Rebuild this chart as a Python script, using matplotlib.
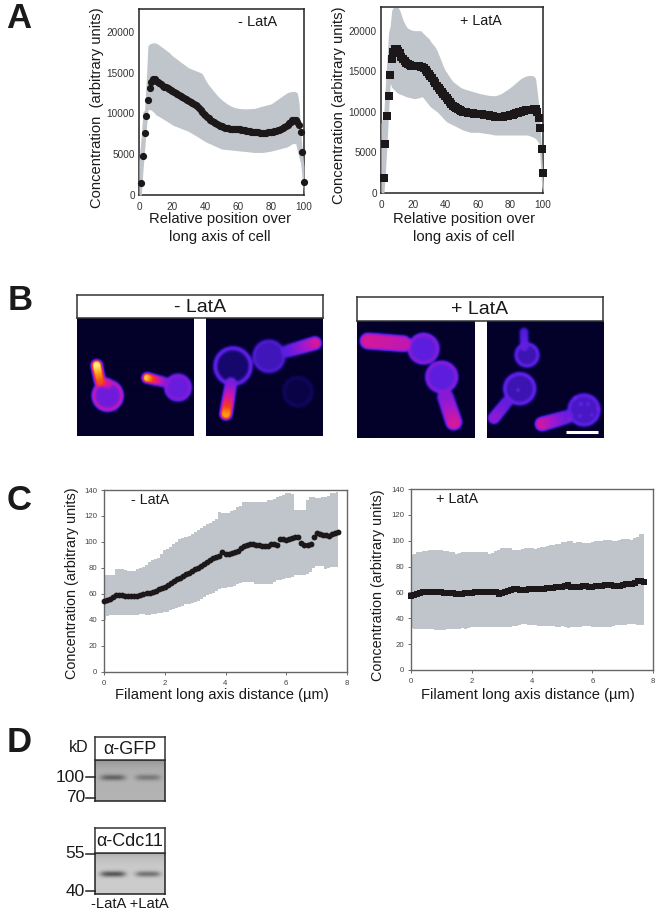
import numpy as np
import matplotlib
matplotlib.use("Agg")
import matplotlib.pyplot as plt
from matplotlib.colors import LinearSegmentedColormap

plt.rcParams['font.family'] = ['Liberation Sans', 'DejaVu Sans']

W, H = 660, 916

# panel A, - LatA
a1_x = [1.4,2.4,3.4,4.4,5.4,6.4,7.4,8.4,9.4,10.4,
        11.4,12.4,13.4,14.4,15.4,16.4,17.4,18.4,19.3,20.3,
        21.3,22.3,23.3,24.3,25.3,26.3,27.3,28.3,29.3,30.3,
        31.3,32.3,33.3,34.3,35.3,36.3,37.3,38.3,39.3,40.3,
        41.2,42.2,43.2,44.2,45.2,46.2,47.2,48.2,49.2,50.2,
        51.2,52.2,53.2,54.2,55.2,56.2,57.2,58.2,59.2,60.2,
        61.1,62.1,63.1,64.1,65.1,66.1,67.1,68.1,69.1,70.1,
        71.1,72.1,73.1,74.1,75.1,76.1,77.1,78.1,79.1,80.1,
        81,82,83,84,85,86,87,88,89,90,
        91,92,93,94,95,96,97,98,99,100]
a1_mean = [1500,4800,7600,9700,11700,13100,13900,14200,14200,14000,
           13850,13700,13550,13400,13300,13200,13100,13000,12900,12800,
           12680,12550,12420,12300,12170,12050,11900,11770,11620,11480,
           11350,11220,11100,10980,10850,10680,10450,10200,9980,9780,
           9580,9400,9230,9070,8940,8800,8680,8570,8470,8400,
           8320,8260,8210,8170,8140,8120,8110,8100,8100,8090,
           8060,8020,7980,7930,7890,7850,7810,7770,7740,7710,
           7690,7670,7660,7650,7650,7650,7660,7670,7680,7700,
           7740,7790,7850,7920,8000,8100,8200,8330,8480,8640,
           8820,9000,9150,9230,9200,8950,8600,7700,5300,1600]
a1_upper = [7300,10200,10400,14000,18300,18500,18600,18650,18650,18600,
            18500,18350,18200,18050,17900,17750,17600,17450,17250,17050,
            16900,16750,16600,16450,16300,16150,16000,15850,15700,15560,
            15480,15400,15320,15240,15160,15080,15000,14860,14500,14100,
            13800,13500,13250,13000,12750,12500,12250,12050,11850,11660,
            11500,11350,11200,11080,10960,10860,10780,10710,10660,10630,
            10600,10580,10570,10560,10560,10570,10580,10590,10600,10620,
            10680,10740,10800,10860,10900,10960,11020,11080,11120,11170,
            11300,11440,11580,11720,11870,12000,12150,12280,12420,12560,
            12620,12660,12690,12690,12650,12480,11250,7500,5500,3400]
a1_lower = [0,3000,5500,8000,10400,10500,10400,10250,10050,9800,
            9700,9600,9450,9350,9200,9100,8950,8850,8720,8580,
            8500,8420,8340,8260,8180,8100,8020,7940,7850,7760,
            7640,7520,7400,7280,7160,7040,6900,6780,6650,6530,
            6440,6350,6260,6170,6080,5990,5900,5810,5720,5630,
            5610,5590,5570,5550,5530,5510,5490,5470,5440,5420,
            5400,5380,5360,5340,5320,5300,5270,5250,5230,5215,
            5215,5215,5215,5215,5215,5250,5280,5310,5350,5380,
            5430,5480,5530,5590,5640,5690,5750,5800,5850,5910,
            6040,6170,6300,6300,6300,5400,4600,3860,1800,0]

# panel A, + LatA
a2_x = [1.8,2.6,3.7,4.7,5.7,6.6,7.6,8.6,9.6,10.6,
        11.6,12.6,13.6,14.6,15.6,16.6,17.6,18.6,19.6,20.6,
        21.6,22.6,23.6,24.6,25.5,26.5,27.5,28.5,29.5,30.5,
        31.5,32.5,33.5,34.5,35.5,36.5,37.5,38.5,39.5,40.5,
        41.5,42.5,43.5,44.5,45.5,46.5,47.5,48.5,49.5,50.5,
        51.5,52.5,53.5,54.5,55.5,56.5,57.5,58.5,59.5,60.5,
        61.5,62.4,63.4,64.4,65.4,66.4,67.4,68.4,69.4,70.4,
        71.4,72.4,73.4,74.4,75.4,76.4,77.4,78.4,79.4,80.4,
        81.4,82.4,83.4,84.4,85.4,86.4,87.4,88.4,89.4,90.4,
        91.4,92.4,93.4,94.4,95.4,96.4,97.5,98.4,99.2,100.2]
a2_mean = [1800,5970,9460,11970,14480,16460,17400,17700,17700,17530,
           17200,16800,16500,16250,16050,15840,15740,15640,15640,15640,
           15620,15600,15590,15570,15550,15350,15140,14900,14650,14400,
           14100,13800,13500,13200,12880,12640,12400,12150,11900,11650,
           11420,11200,10980,10750,10530,10400,10300,10200,10100,10000,
           9960,9920,9880,9840,9800,9780,9760,9740,9720,9700,
           9680,9660,9640,9610,9590,9550,9510,9470,9430,9380,
           9380,9380,9380,9380,9380,9420,9460,9500,9550,9590,
           9650,9720,9790,9860,9920,9980,10040,10100,10150,10200,
           10220,10240,10260,10280,10290,10000,9200,7940,5430,2470]
a2_upper = [10000,13000,16500,19800,20600,22500,22860,22860,22860,22860,
            22500,21900,21300,20900,20500,20300,20200,20100,20050,20000,
            20000,20000,20000,20000,19800,19600,19400,19200,19050,18700,
            18450,18200,17950,17600,17100,16600,16100,15600,15150,14850,
            14550,14250,13950,13700,13550,13400,13250,13100,12950,12880,
            12800,12740,12680,12620,12560,12500,12440,12380,12320,12260,
            12220,12180,12140,12100,12060,12020,12000,11980,11970,11990,
            12030,12090,12170,12260,12390,12520,12650,12790,12930,13090,
            13250,13420,13590,13760,13930,14100,14210,14300,14380,14440,
            14480,14480,14450,14400,14100,12500,10600,7800,4850,900]
a2_lower = [0,2000,6000,10000,13500,13000,12800,12600,12400,12260,
            12180,12100,12020,11940,11850,11800,11750,11700,11650,11600,
            11640,11680,11740,11800,11850,11600,11350,11100,10850,10600,
            10450,10300,10150,10000,9800,9600,9400,9150,8950,8760,
            8650,8550,8450,8350,8250,8150,8050,7950,7850,7740,
            7680,7620,7560,7500,7450,7450,7450,7450,7450,7450,
            7420,7390,7360,7330,7300,7270,7240,7200,7160,7120,
            7120,7120,7120,7120,7120,7120,7120,7120,7120,7120,
            7120,7120,7120,7120,7120,7120,7120,7120,7120,7120,
            7050,6980,6900,6800,6700,6400,6090,3620,740,0]

# panel C, - LatA
c1_x = [i / 10 for i in range(78)]
c1_mean = [55,55.5,56.5,57.5,59,59.5,59,58.8,58.5,58.3,
           58.3,58.8,59.5,60,60.5,60.8,61.3,62.3,63.5,64.5,
           65.5,66.8,68.5,70,71.5,72.5,74,75.3,76.5,77.8,
           79,80,81.5,83,85,86.5,87.5,88.5,89.5,92,
           91,90.5,91.5,92.5,93,95.5,97,98,98.5,98.5,
           98,97.5,97.3,97,97,98.5,98.5,98,102,102,
           101.5,102,103,103.5,103.5,99.5,98,97.5,98.5,103.5,
           107,106,105.5,105.5,104.5,106,107,107.5]
c1_upper = [74.5,74.5,75,75,79,79,79,78.5,78,78,
            78,79,80,80.5,82,85,86,87,88,91,
            94,95,96.5,98.5,100,102,103,104,105,106.5,
            108,109.5,111,112,113.5,115,116,118,123,122.5,
            122,122.5,124,125,127,128,130.5,131,131,131,
            131,131,131,131,132,132,133,135,135.5,136,
            137.5,138,137,125,125,125,125,132,135,135,
            134,134,134.5,135,135.5,137.5,138,138.5]
c1_lower = [40,43,43.5,43.5,43.5,43.5,43.5,43.5,43.5,43.5,
            43.5,44,44.5,44.5,44,44,44.5,45,45.5,45.5,
            46,46.5,47.5,48.5,49,50,51,52,52.5,53,
            54,55,56.5,57.5,59,60,61,62,64,64.5,
            65,65.5,65.5,66.5,68,68.5,69,69,69.5,69.5,
            67.5,67.5,68,68,68,67.5,69,71,71,71.5,
            72,72.5,73,74.5,74.5,74.5,74.5,75.5,77,80,
            81.7,81.7,81.7,79.6,80,81,81,80.5]

# panel C, + LatA
c2_x = [i / 10 for i in range(78)]
c2_mean = [57.5,58,59,59.5,60,60.5,60.5,60.5,60.5,60,
           60,59.8,59.5,59.5,59.3,59,58.5,58.8,59.5,59.5,
           59.5,60,60,60,60.5,60.5,60.5,60,60,58.5,
           59.5,60.5,61,62,62.3,62.3,62,62,62,62.3,
           62.8,62.8,62.8,63,63,63.2,63.5,63.5,64,64.2,
           64.5,64.8,65.5,64,64,64.3,64.5,65,65,64.5,
           64.5,65,65,65.2,65.8,66,65.5,65,65,65,
           65.5,66.5,66.5,66.5,67.5,69,68.5,68]
c2_upper = [89,90,91,91.5,92,92,92.5,92.5,92.5,92.5,
            92.5,92,92,91.5,91,90,90.5,91,91,91.5,
            91,91,91,91,91,91,90,90.5,92,93,
            94,94.5,94.5,94,93,92.5,93,93.5,94,94.5,
            94,93.5,94,95,95.5,96,96.5,97,97.5,97.5,
            99,99,99.5,99.5,98.5,99,99,98.5,98.5,98.5,
            99,99.5,99.5,100,100.5,100.5,100.5,100,100,100.5,
            101,101,101,100.5,102,103,105,105]
c2_lower = [32.5,32,32,31.5,32,32,32,31.5,31,31,
            31,31,31.5,31.5,32,32,32,32.5,32,32.5,
            33,33,33,33,33.5,33.5,33,33,33,33,
            33,33,33,33.5,34,34,35,35.5,35.5,35,
            34.5,34.5,34,34,34,34,34,34,33.5,33.5,
            34,33.5,32.5,33,33.5,33.5,33.5,34,34,34,
            33.5,33.5,33.5,33.5,33.5,33.5,33.5,34,34.5,34.5,
            34.5,35,35.5,35.5,35.5,35,34.5,34.5]

a_yticks = [0, 5000, 10000, 15000, 20000]
a_xticks = [0, 20, 40, 60, 80, 100]
c_yticks = [0, 20, 40, 60, 80, 100, 120, 140]
c_xticks = [0, 2, 4, 6, 8]

GRAY = "#bfc5ca"
DARK = "#1c1819"

fig = plt.figure(figsize=(W / 100, H / 100), dpi=100)


def px_axes(left, top, right, bottom):
    return fig.add_axes([left / W, 1 - bottom / H, (right - left) / W, (bottom - top) / H])


def px_text(x, y, s, size, **kw):
    kw.setdefault("ha", "center")
    kw.setdefault("va", "center")
    fig.text(x / W, 1 - y / H, s, fontsize=size, color=kw.pop("color", "#1a1a1a"), **kw)


def plot_a(box, x, mean, upper, lower, marker, ms, ymax, y_start):
    ax = px_axes(*box)
    ax.fill_between([0] + x, [0] + lower, [y_start] + upper, color=GRAY, lw=0, zorder=3)
    ax.plot(x, mean, ls="none", marker=marker, ms=ms, color=DARK, mew=0, zorder=4, clip_on=False)
    ax.set_xlim(0, 100)
    ax.set_ylim(0, ymax)
    ax.set_xticks(a_xticks)
    ax.set_yticks(a_yticks)
    ax.tick_params(length=0, labelsize=7.2, labelcolor="#333333")
    ax.tick_params(axis="y", pad=3)
    ax.tick_params(axis="x", pad=5)
    for s in ax.spines.values():
        s.set_linewidth(1.1)
        s.set_color("#222222")
    return ax


def plot_c(box, x, mean, upper, lower, marker, ms):
    ax = px_axes(*box)
    ax.fill_between(x, lower, upper, step="mid", color=GRAY, lw=0, zorder=1, clip_on=False)
    ax.plot(x, mean, ls="none", marker=marker, ms=ms, color=DARK, mew=0, zorder=4, clip_on=False)
    ax.set_xlim(0, 8)
    ax.set_ylim(0, 140)
    ax.set_xticks(c_xticks)
    ax.set_yticks(c_yticks)
    ax.tick_params(length=2, width=0.6, labelsize=5.6, labelcolor="#444444", color="#555555")
    ax.tick_params(axis="y", pad=3)
    ax.tick_params(axis="x", pad=3.5)
    for s in ax.spines.values():
        s.set_linewidth(1.0)
        s.set_color("#666666")
    return ax


# A
plot_a((139, 9, 304, 195), a1_x, a1_mean, a1_upper, a1_lower, "o", 5.2, 22800, 4200)
plot_a((381, 7.5, 543, 192.7), a2_x, a2_mean, a2_upper, a2_lower, "s", 5.8, 22860, 8500)
px_text(258, 22, "- LatA", 10.5)
px_text(481, 21, "+ LatA", 10.3)
px_text(97, 108, "Concentration  (arbitrary units)", 10.6, rotation=90)
px_text(339, 105, "Concentration (arbitrary units)", 10.7, rotation=90)
px_text(220, 219, "Relative position over", 10.6)
px_text(220, 237, "long axis of cell", 10.6)
px_text(464, 219, "Relative position over", 10.6)
px_text(464, 237, "long axis of cell", 10.6)

# C
plot_c((104, 490, 347, 672), c1_x, c1_mean, c1_upper, c1_lower, "o", 4.2)
plot_c((411, 489, 653, 670), c2_x, c2_mean, c2_upper, c2_lower, "s", 4.6)
px_text(150, 500, "- LatA", 10.3)
px_text(457, 499, "+ LatA", 10.4)
px_text(72, 583, "Concentration (arbitrary units)", 10.4, rotation=90)
px_text(378, 585, "Concentration (arbitrary units)", 10.4, rotation=90)
px_text(222, 695, "Filament long axis distance (µm)", 10.6)
px_text(528, 695, "Filament long axis distance (µm)", 10.6)

# panel letters
for lx, ly, letter in [(19, 18, "A"), (20, 301, "B"), (19, 501, "C"), (19, 743, "D")]:
    px_text(lx, ly, letter, 25, fontweight="bold", color="#1a1a1a")

# micrographs are drawn from a few capsule and circle shapes
fire = LinearSegmentedColormap.from_list("fire", [
    (0.0, "#03002a"), (0.15, "#1c0a80"), (0.32, "#5a1ee0"), (0.5, "#a018d0"),
    (0.65, "#e01890"), (0.78, "#f03a20"), (0.9, "#fb9a10"), (1.0, "#fff080")])


def grid(n=117):
    yy, xx = np.mgrid[0:n, 0:n]
    return xx + 0.5, yy + 0.5


def add_circle(img, cx, cy, r, inner, rim):
    xx, yy = grid()
    d = np.hypot(xx - cx, yy - cy)
    body = np.clip((r - d) / 1.5 + 0.5, 0, 1) * inner
    ring = rim * np.exp(-((d - (r - 2)) / 3.0) ** 2) * np.clip((r - d) / 1.5 + 0.5, 0, 1)
    return np.maximum(img, np.maximum(body, ring))


def add_tube(img, x0, y0, x1, y1, r, i0, i1):
    xx, yy = grid()
    dx, dy = x1 - x0, y1 - y0
    t = np.clip(((xx - x0) * dx + (yy - y0) * dy) / (dx * dx + dy * dy), 0, 1)
    d = np.hypot(xx - (x0 + t * dx), yy - (y0 + t * dy))
    body = np.clip((r - d) / 1.5 + 0.5, 0, 1) * (i0 + (i1 - i0) * t)
    return np.maximum(img, body)


def add_spot(img, cx, cy, level):
    xx, yy = grid()
    d = np.hypot(xx - cx, yy - cy)
    return np.maximum(img, level * np.exp(-(d / 1.6) ** 2))


def soften(img):
    k = np.array([1, 2, 3, 2, 1]) / 9
    img = np.apply_along_axis(lambda v: np.convolve(v, k, mode="same"), 0, img)
    return np.apply_along_axis(lambda v: np.convolve(v, k, mode="same"), 1, img)


def show_cells(box, circles, tubes, spots=()):
    img = np.zeros((117, 117))
    for c in circles:
        img = add_circle(img, *c)
    for t in tubes:
        img = add_tube(img, *t)
    for s in spots:
        img = add_spot(img, *s)
    ax = px_axes(*box)
    ax.imshow(soften(img), cmap=fire, vmin=0, vmax=1, extent=(0, 117, 117, 0), interpolation="bilinear", aspect="auto")
    ax.axis("off")
    return ax


show_cells((77, 318, 194, 436),
           [(30.7, 77, 16, 0.38, 0.66), (101, 69, 14, 0.36, 0.48)],
           [(23, 63, 19.7, 47, 5.5, 0.8, 1.0), (24, 63, 31, 65, 5, 0.72, 0.6),
            (89, 64, 70, 59.3, 5, 0.42, 0.95)])
show_cells((206, 318, 323, 436),
           [(27, 47.7, 20, 0.12, 0.4), (63, 38, 17, 0.25, 0.33), (92, 73, 16, 0.05, 0.1)],
           [(81, 33, 109, 25, 6.5, 0.33, 0.62), (25, 65, 20, 95, 6, 0.42, 0.9)])
show_cells((357, 321, 475, 438),
           [(66, 27.7, 16, 0.33, 0.5), (84, 56, 16.5, 0.33, 0.5)],
           [(11, 20, 46, 22.7, 8, 0.62, 0.58), (87.7, 76, 96, 101, 8, 0.44, 0.62)])
ax = show_cells((487, 321, 604, 438),
                [(40, 34, 13, 0.24, 0.38), (32.7, 67.7, 17, 0.24, 0.4), (97, 89, 17, 0.27, 0.38)],
                [(37, 11, 37.3, 26, 4.5, 0.3, 0.34), (20, 81, 7, 97, 6, 0.34, 0.46), (80, 96, 55, 103, 7, 0.36, 0.6)],
                [(88, 77, 0.7), (94, 83, 0.65), (101, 83, 0.6), (93, 95, 0.6), (82, 98, 0.72),
                 (111, 88, 0.6), (105, 94, 0.55), (31, 69, 0.6)])
ax.plot([79, 111], [111, 111], color="white", lw=2.2, solid_capstyle="butt")


def header(box, s, size):
    ax = px_axes(*box)
    ax.set_xticks([])
    ax.set_yticks([])
    for sp in ax.spines.values():
        sp.set_linewidth(1.1)
        sp.set_color("#333333")
    ax.text(0.5, 0.47, s, transform=ax.transAxes, ha="center", va="center", fontsize=size, color="#1a1a1a")


header((77, 295, 323, 318), "- LatA", 14)
header((357, 297, 603, 321), "+ LatA", 14)

# D, blots


def blot(box, bg, band_y, band_dark):
    l, t, r, b = box
    w, h = int(r - l), int(b - t)
    yy, xx = np.mgrid[0:h, 0:w]
    img = bg - 0.12 * np.exp(-(yy / 6.0))
    for x0, x1, dark in band_dark:
        cx = (x0 + x1) / 2
        hw = (x1 - x0) / 2
        prof = np.exp(-((yy - band_y) / 3.0) ** 2) * np.exp(-(np.abs(xx - cx) / hw) ** 4)
        img = img - dark * prof
    ax = px_axes(*box)
    ax.imshow(img, cmap="gray", vmin=0, vmax=1, extent=(0, w, h, 0), aspect="auto", interpolation="bilinear")
    ax.set_xticks([])
    ax.set_yticks([])
    for sp in ax.spines.values():
        sp.set_linewidth(1.1)
        sp.set_color("#222222")


blot((95, 760, 165, 801), 0.70, 17, [(5, 30, 0.30), (40, 65, 0.22)])
blot((95, 853, 165, 894), 0.80, 20.5, [(5, 30, 0.45), (40, 65, 0.34)])
header((95, 737, 165, 760), "α-GFP", 13)
header((95, 828, 165, 853), "α-Cdc11", 13)

px_text(79, 748, "kD", 11.5)
for ty, lab in [(777, "100"), (798, "70"), (854, "55"), (891, "40")]:
    px_text(85, ty, lab, 12.5, ha="right")
    fig.add_artist(plt.Line2D([86 / W, 95 / W], [1 - ty / H, 1 - ty / H], color="#222222", lw=1.1))
px_text(130, 904, "-LatA +LatA", 10.6)

fig.savefig("out.png", dpi=100)
